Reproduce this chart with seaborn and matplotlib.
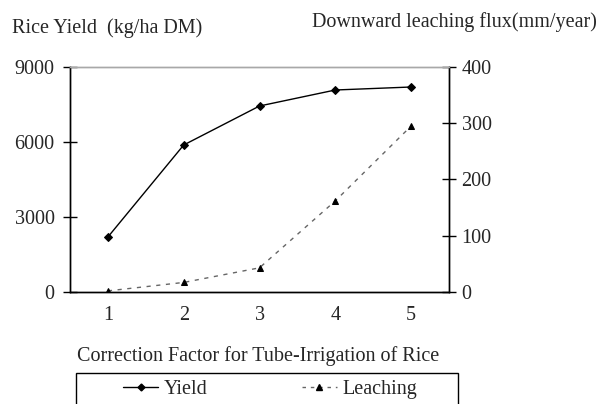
import matplotlib
matplotlib.use("Agg")
import matplotlib.pyplot as plt
import seaborn as sns
import pandas as pd
from matplotlib.patches import Rectangle
from matplotlib.lines import Line2D

factor = [1, 2, 3, 4, 5]
yield_vals = [2200, 5880, 7440, 8080, 8200]
leaching_vals = [2, 17, 43, 162, 295]
yield_ticks = [0, 3000, 6000, 9000]
leach_ticks = [0, 100, 200, 300, 400]

sns.set_style("white")
plt.rcParams["font.family"] = ["Liberation Serif", "DejaVu Serif"]
FS = 14.5

df = pd.DataFrame({"factor": factor, "Yield": yield_vals, "Leaching": leaching_vals})

fig = plt.figure(figsize=(6.03, 4.04), dpi=100)
ax = fig.add_axes([70/603, 1-292/404, (449-70)/603, (292-67)/404])
ax2 = ax.twinx()

sns.lineplot(data=df, x="factor", y="Yield", ax=ax, color="black", lw=1.0,
             marker="D", markersize=4, markeredgecolor="black")
sns.lineplot(data=df, x="factor", y="Leaching", ax=ax2, color="#666666", lw=1.0,
             linestyle=(0, (3, 4)), marker="^", markersize=5,
             markerfacecolor="black", markeredgecolor="black")

ax.set_xlim(0.5, 5.5)
ax.set_ylim(0, 9000)
ax2.set_ylim(0, 400)
ax.set_yticks(yield_ticks)
ax.set_yticklabels([str(v) for v in yield_ticks], fontsize=FS)
ax2.set_yticks(leach_ticks)
ax2.set_yticklabels([str(v) for v in leach_ticks], fontsize=FS)
ax.set_xticks([0.5, 1.5, 2.5, 3.5, 4.5, 5.5])
ax.set_xticklabels([])
ax.set_xticks(factor, minor=True)
ax.set_xticklabels([str(v) for v in factor], minor=True, fontsize=FS)
ax.tick_params(axis="x", which="major", direction="inout", length=10, width=1, color="black")
ax.tick_params(axis="x", which="minor", length=0, pad=10)
ax.tick_params(axis="y", direction="inout", length=10, width=1, color="black", pad=6)
ax2.tick_params(axis="y", direction="inout", length=10, width=1, color="black", pad=4)
ax.set_xlabel("")
ax.set_ylabel("")
ax2.set_ylabel("")

for a in (ax, ax2):
    for s in a.spines.values():
        s.set_color("black")
        s.set_linewidth(1.0)
    a.spines["top"].set_color("#a8a8a8")

fig.text(12/603, 1-28/404, "Rice Yield  (kg/ha DM)", fontsize=FS, va="center", ha="left")
fig.text(597/603, 1-22/404, "Downward leaching flux(mm/year)", fontsize=FS, va="center", ha="right")
fig.text(258/603, 1-356/404, "Correction Factor for Tube-Irrigation of Rice", fontsize=FS, va="center", ha="center")

fig.patches.append(Rectangle((76/603, -0.1), (458-76)/603, 0.1 + (404-373)/404,
                             transform=fig.transFigure, fill=False, edgecolor="black", lw=1.0))

handles = [Line2D([], [], color="black", lw=1.0, marker="D", markersize=3.5),
           Line2D([], [], color="#666666", lw=1.0, linestyle=(0, (2.5, 3.5)), marker="^",
                  markersize=4.5, markerfacecolor="black", markeredgecolor="black")]
fig.legend(handles, ["Yield", "Leaching"], ncol=2, frameon=False, fontsize=FS,
           loc="center", bbox_to_anchor=(270/603, 1-389/404), columnspacing=4.7,
           handlelength=1.75, handletextpad=0.25)

fig.savefig("out.png", dpi=100)
